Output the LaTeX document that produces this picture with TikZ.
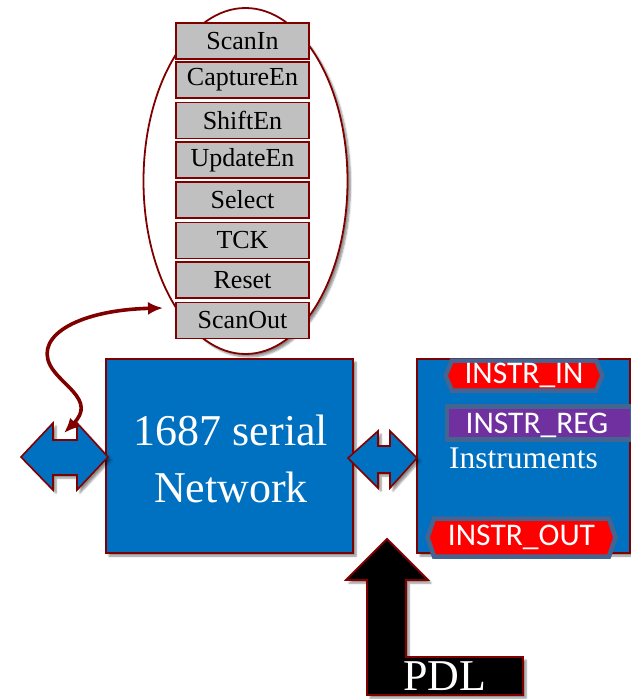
\documentclass[tikz,border=0pt]{standalone}
\usepackage{fontspec}
\setmainfont{Liberation Serif}
\newfontfamily\sansf{Carlito}
\usetikzlibrary{shapes.geometric,shapes.symbols,arrows.meta,shadows.blur}
\definecolor{dred}{RGB}{128,0,0}
\definecolor{nblue}{RGB}{0,112,192}
\definecolor{sgray}{RGB}{192,192,192}
\definecolor{steel}{RGB}{68,100,145}
\definecolor{ipurple}{RGB}{112,48,160}
\definecolor{ired}{RGB}{255,0,0}
\begin{document}
\begin{tikzpicture}[x=1pt,y=-1pt,
  shad/.style={blur shadow={shadow xshift=3pt,shadow yshift=-3pt,shadow blur steps=6,shadow opacity=45}},
  sig/.style={draw=dred,line width=1.6pt,fill=sgray,minimum width=133pt,minimum height=36pt,inner sep=0pt,
    font=\fontsize{26}{28}\selectfont},
  bluebox/.style={draw=dred,line width=1.8pt,fill=nblue,inner sep=0pt,shad},
  dblarrow/.style={draw=dred,line width=1.6pt,fill=nblue,shad},
  tag/.style={draw=steel,line width=4.5pt,fill=ired,text=white,inner sep=0pt,
    font=\sansf\fontsize{31.5}{34}\selectfont},
  hexa/.style={tag,shape=signal,signal to=east and west},
  wtext/.style={text=white,inner sep=0pt},
  link/.style={draw=dred,line width=3.6pt,{Latex[length=15pt,width=13pt]}-{Latex[length=15pt,width=13pt]}}
]
\useasboundingbox (0,0) rectangle (631,699);

% ellipse with signals
\node (ell) [draw=dred,line width=1.8pt,fill=white,shape=ellipse,minimum width=204pt,minimum height=346pt,inner sep=0pt,shad] at (245.5,181) {};
\node (s1) [sig] at (242.5,41) {ScanIn};
\node (s2) [sig] at (242.5,80) {CaptureEn};
\node (s3) [sig] at (242.5,120.5) {ShiftEn};
\node (s4) [sig] at (242.5,160) {UpdateEn};
\node (s5) [sig] at (242.5,200) {Select};
\node (s6) [sig] at (242.5,240.5) {TCK};
\node (s7) [sig] at (242.5,280) {Reset};
\node (s8) [sig] at (242.5,320.5) {ScanOut};

% network box
\node (net) [bluebox,minimum width=247pt,minimum height=194pt] at (229.5,456) {};
\node (t1) [wtext,anchor=base,font=\fontsize{44}{50}\selectfont] at (231,445) {1687 serial};
\node (t2) [wtext,anchor=base,font=\fontsize{44}{50}\selectfont] at (231,502) {Network};

% instruments box
\node (ins) [bluebox,minimum width=213pt,minimum height=194pt] at (523.5,456) {};
\node (inin) [hexa,minimum width=157pt,minimum height=30pt,signal pointer angle=134] at (524,375.5) {INSTR\_IN};
\node (inreg) [tag,fill=ipurple,minimum width=185pt,minimum height=33pt,anchor=west] at (444.5,423) {};
\node (inregt) [wtext,font=\sansf\fontsize{31.5}{34}\selectfont,anchor=base] at (537,433) {INSTR\_REG};
\node (instxt) [wtext,anchor=base west,font=\fontsize{31.5}{34}\selectfont] at (449,468) {Instruments};
\node (inout) [hexa,minimum width=188pt,minimum height=38pt,signal pointer angle=142] at (521.5,537.5) {INSTR\_OUT};

% double arrows
\draw[dblarrow] (21,457) -- (53,423) -- (53,440) -- (77,440) -- (77,423) -- (108,457)
  -- (77,490) -- (77,475) -- (53,475) -- (53,490) -- cycle;
\draw[dblarrow] (348,458) -- (378,431) -- (378,446) -- (390,446) -- (390,431) -- (417,458)
  -- (390,488) -- (390,473) -- (378,473) -- (378,488) -- cycle;

% PDL arrow
\draw[draw=dred,line width=1.8pt,fill=black,shad] (387,539) -- (428,580) -- (406,580) -- (406,657)
  -- (523,657) -- (523,695) -- (367,695) -- (367,580) -- (346,580) -- cycle;
\node (pdl) [wtext,anchor=base,font=\fontsize{44}{48}\selectfont] at (445,690) {PDL};

% curved link
\coordinate (notch) at (64,433);
\coordinate (sotip) at (163,308);
\draw[link] (sotip) .. controls (80,310) and (35,335) .. (50,365) .. controls (60,385) and (97,400) .. (notch);
\end{tikzpicture}
\end{document}
